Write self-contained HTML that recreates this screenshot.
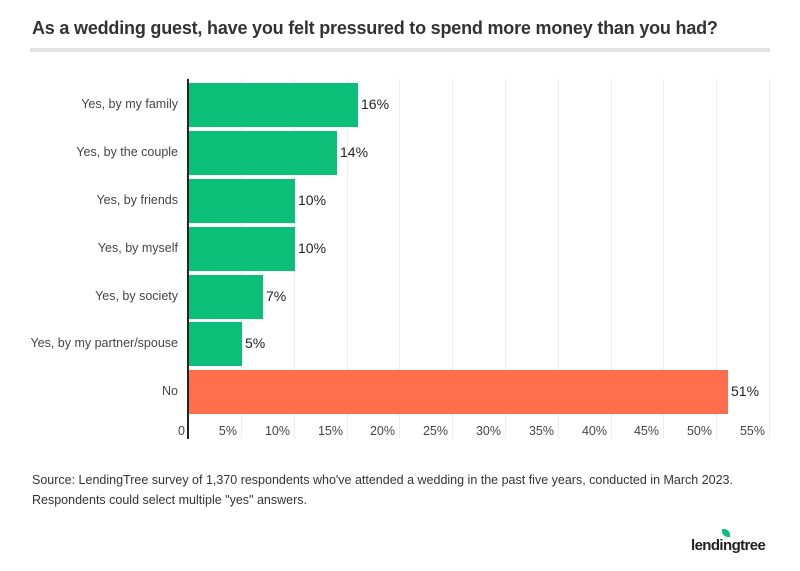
<!DOCTYPE html><html><head><style>
body{margin:0;width:800px;height:571px;background:#fff;font-family:"Liberation Sans",sans-serif;color:#333;position:relative;overflow:hidden}
.t{position:absolute;left:32px;top:18px;font-size:18px;font-weight:bold;color:#333;letter-spacing:-0.2px}
.d{position:absolute;left:30px;top:48px;width:740px;height:4px;background:#e4e4e4}
.g{position:absolute;top:79px;height:360px;width:1px;background:#ececec}
.ax{position:absolute;left:187px;top:79px;height:360px;width:2px;background:#222}
.bar{position:absolute;left:189px;height:44px;background:#0cbf78}
.l{position:absolute;right:622px;font-size:12.5px;color:#444;white-space:nowrap}
.v{position:absolute;font-size:14px;color:#222}
.x{position:absolute;top:424px;font-size:12.5px;color:#444;text-align:right;width:40px}
.s{position:absolute;left:32px;top:470px;font-size:12.5px;line-height:20px;color:#333}
.lg{position:absolute;left:691px;top:537px;font-size:15px;font-weight:bold;color:#222;letter-spacing:-0.6px}
</style></head><body>
<div class="t">As a wedding guest, have you felt pressured to spend more money than you had?</div>
<div class="d"></div>
<div class="g" style="left:241px"></div><div class="g" style="left:294px"></div><div class="g" style="left:347px"></div><div class="g" style="left:399px"></div><div class="g" style="left:452px"></div><div class="g" style="left:505px"></div><div class="g" style="left:558px"></div><div class="g" style="left:611px"></div><div class="g" style="left:663px"></div><div class="g" style="left:716px"></div><div class="g" style="left:769px"></div>
<div class="bar" style="top:83px;width:169px"></div>
<div class="bar" style="top:131px;width:148px"></div>
<div class="bar" style="top:179px;width:106px"></div>
<div class="bar" style="top:227px;width:106px"></div>
<div class="bar" style="top:275px;width:74px"></div>
<div class="bar" style="top:322px;width:53px"></div>
<div class="bar" style="top:370px;width:539px;background:#ff6f4d"></div>
<div class="ax"></div>
<div class="l" style="top:97px">Yes, by my family</div>
<div class="l" style="top:145px">Yes, by the couple</div>
<div class="l" style="top:193px">Yes, by friends</div>
<div class="l" style="top:241px">Yes, by myself</div>
<div class="l" style="top:289px">Yes, by society</div>
<div class="l" style="top:336px">Yes, by my partner/spouse</div>
<div class="l" style="top:384px">No</div>
<div class="v" style="left:361px;top:96px">16%</div>
<div class="v" style="left:340px;top:144px">14%</div>
<div class="v" style="left:298px;top:192px">10%</div>
<div class="v" style="left:298px;top:240px">10%</div>
<div class="v" style="left:266px;top:288px">7%</div>
<div class="v" style="left:245px;top:335px">5%</div>
<div class="v" style="left:731px;top:383px">51%</div>
<div class="x" style="left:145px">0</div>
<div class="x" style="left:197px">5%</div>
<div class="x" style="left:250px">10%</div>
<div class="x" style="left:303px">15%</div>
<div class="x" style="left:355px">20%</div>
<div class="x" style="left:408px">25%</div>
<div class="x" style="left:461px">30%</div>
<div class="x" style="left:514px">35%</div>
<div class="x" style="left:567px">40%</div>
<div class="x" style="left:619px">45%</div>
<div class="x" style="left:672px">50%</div>
<div class="x" style="left:725px">55%</div>
<div class="s">Source: LendingTree survey of 1,370 respondents who've attended a wedding in the past five years, conducted in March 2023.<br>Respondents could select multiple "yes" answers.</div>
<div style="position:absolute;left:722px;top:529px;width:8px;height:8px;background:#0cbf78;border-radius:0 6px 0 6px"></div>
<div class="lg">lendingtree</div>
</body></html>
